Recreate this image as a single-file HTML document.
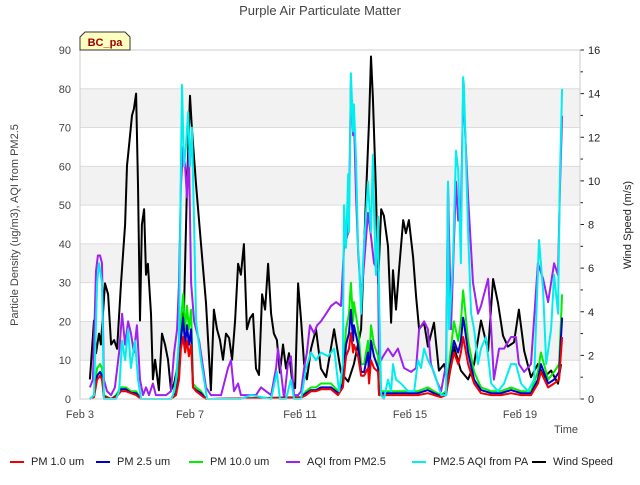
<!DOCTYPE html>
<html><head><meta charset="utf-8"><style>
body{margin:0;background:#fff;}
svg text{font-family:"Liberation Sans",sans-serif;}
</style></head><body>
<svg id="chart" width="640" height="480" xmlns="http://www.w3.org/2000/svg">
<rect width="640" height="480" fill="#fff"/>
<g id="bands"></g><g id="grid"></g><g id="series"></g><g id="axes"></g>
<text x="320" y="15" text-anchor="middle" font-size="13" fill="#444">Purple Air Particulate Matter</text>
<text x="566" y="433" text-anchor="middle" font-size="11" fill="#444">Time</text>
<text transform="translate(18,225) rotate(-90)" text-anchor="middle" font-size="11" fill="#444">Particle Density (ug/m3), AQI from PM2.5</text>
<text transform="translate(631,225) rotate(-90)" text-anchor="middle" font-size="11" fill="#222">Wind Speed (m/s)</text>
<g>
<path d="M80,50 L80,37 L85,32 L125,32 L130,37 L130,50 Z" fill="#ffffc0" stroke="#333" stroke-width="1"/>
<text x="105" y="46" text-anchor="middle" font-size="11" font-weight="bold" fill="#990000">BC_pa</text>
</g>
<g id="legend"></g>
</svg>
<script>
const leftTicks=[0,10,20,30,40,50,60,70,80,90];
const rightTicks=[0,2,4,6,8,10,12,14,16];
const xTickDays=[3,7,11,15,19];
const xTickLabels=["Feb 3","Feb 7","Feb 11","Feb 15","Feb 19"];

const windT=[3.36,3.51,3.58,3.69,3.76,3.91,4.02,4.13,4.24,4.35,4.49,4.64,4.71,4.78,4.89,4.96,5.04,5.11,5.18,5.25,5.33,5.40,5.47,5.58,5.65,5.73,5.87,5.98,6.09,6.2,6.31,6.42,6.53,6.67,6.78,6.89,7.0,7.07,7.22,7.4,7.58,7.76,7.87,7.98,8.09,8.2,8.31,8.42,8.53,8.64,8.75,8.85,8.96,9.07,9.18,9.29,9.4,9.51,9.62,9.73,9.84,9.95,10.05,10.16,10.27,10.38,10.49,10.6,10.71,10.82,10.93,11.04,11.15,11.25,11.4,11.58,11.76,11.95,12.24,12.49,12.75,12.96,13.22,13.4,13.51,13.58,13.65,13.76,13.84,13.95,14.05,14.2,14.31,14.38,14.49,14.6,14.75,14.85,14.96,15.11,15.22,15.33,15.51,15.65,15.87,16.05,16.24,16.38,16.6,16.85,17.11,17.33,17.58,17.84,18.02,18.2,18.38,18.56,18.78,18.96,19.15,19.4,19.65,19.87,20.13,20.38,20.49];
const windV=[0.9,3.6,2.1,3.0,2.5,5.3,4.8,2.5,2.7,2.3,5.3,8.0,10.7,11.6,13.0,13.3,14.0,9.8,3.6,8.0,8.7,5.7,6.2,3.9,0.9,1.8,0.4,3.0,2.5,1.8,0.4,0.7,1.4,2.7,4.1,9.8,13.9,12.4,9.8,7.1,4.4,0.4,4.1,3.2,2.7,1.8,3.0,2.8,1.8,3.6,6.2,5.7,7.1,3.2,3.7,3.9,1.4,1.1,4.8,4.1,6.2,3.9,3.0,2.7,1.2,2.5,1.4,2.1,0.9,0.5,5.3,3.6,1.6,0.9,2.3,3.2,1.4,1.0,3.2,1.2,0.8,1.6,3.2,9.3,12.8,15.7,13.8,9.6,5.3,8.7,8.4,7.0,3.5,5.9,4.1,5.9,8.2,7.6,8.2,6.5,4.7,3.2,3.5,2.4,3.5,1.3,1.6,0.7,2.4,1.3,0.9,1.6,3.6,2.2,5.5,4.4,2.9,2.4,2.6,4.1,2.2,1.0,1.6,1.0,1.3,0.7,1.6];

const paT=[3.36,3.51,3.62,3.69,3.8,3.87,3.98,4.31,4.42,4.53,4.64,4.75,4.85,5.0,5.11,5.22,5.4,6.31,6.38,6.49,6.6,6.67,6.71,6.78,6.85,6.93,7.0,7.07,7.15,7.22,7.4,7.62,7.95,8.85,9.22,9.95,10.16,10.27,10.49,10.67,10.78,11.04,11.22,11.4,11.58,11.76,12.02,12.24,12.42,12.56,12.6,12.67,12.75,12.78,12.85,12.93,12.96,13.04,13.11,13.15,13.22,13.29,13.33,13.47,13.51,13.58,13.65,13.69,13.76,13.84,13.87,13.95,14.05,14.2,14.31,14.38,14.49,14.67,14.93,15.15,15.29,15.4,15.51,15.65,15.87,16.13,16.31,16.38,16.42,16.56,16.67,16.75,16.85,16.93,16.96,17.11,17.22,17.33,17.47,17.58,17.76,17.95,18.2,18.42,18.67,18.85,19.04,19.29,19.51,19.69,19.84,19.95,20.13,20.24,20.38,20.45,20.53];
const paV=[0,1,30,35,30,0,0,0,2,15,10,18,8,15,5,0,0,0,1,5,15,60,81,60,65,74,60,70,45,20,10,0,0,0,1,0,7,0,0,5,0,0,8,12,10,12,11,13,2,9,50,39,58,43,84,69,76,61,39,35,22,35,40,56,51,43,63,49,32,47,27,1,0,5,2,9,5,4,2,2,10,8,13,10,7,1,1,56,18,35,64,59,35,83,81,43,22,18,9,13,16,4,2,4,9,9,4,2,5,41,28,9,18,32,22,57,80];

const aqiT=[3.36,3.47,3.58,3.65,3.73,3.8,3.87,3.98,4.13,4.27,4.42,4.53,4.64,4.75,4.85,4.96,5.07,5.18,5.29,5.4,5.51,5.65,5.76,5.95,6.13,6.31,6.42,6.53,6.6,6.67,6.75,6.82,6.89,6.96,7.04,7.15,7.33,7.58,7.76,7.95,8.13,8.38,8.49,8.6,8.75,8.85,9.04,9.22,9.4,9.58,9.76,9.95,10.13,10.2,10.31,10.42,10.56,10.67,10.78,10.93,11.04,11.15,11.25,11.36,11.51,11.62,11.76,11.95,12.13,12.31,12.49,12.6,12.75,12.78,12.85,12.93,12.96,13.04,13.11,13.22,13.33,13.47,13.58,13.69,13.84,13.87,14.02,14.2,14.38,14.56,14.78,15.04,15.22,15.33,15.51,15.65,15.76,15.95,16.13,16.31,16.38,16.49,16.67,16.75,16.85,16.93,16.96,17.11,17.29,17.47,17.58,17.84,17.95,18.05,18.24,18.42,18.67,18.85,18.96,19.15,19.4,19.65,19.84,20.02,20.24,20.38,20.45,20.53];
const aqiV=[3,5,33,37,37,35,5,2,1,3,12,22,14,20,17,12,19,5,1,3,1,4,1,1,1,2,12,18,30,55,65,60,52,64,30,20,15,3,1,1,1,8,10,2,4,1,1,1,1,3,2,1,8,13,7,0,9,11,1,1,2,8,12,19,17,19,20,22,24,25,24,39,43,48,82,68,73,52,38,26,35,48,42,35,33,9,11,13,11,13,8,7,8,18,20,18,9,5,2,9,56,18,56,46,48,78,76,52,30,22,24,31,18,5,13,13,16,16,9,7,9,35,31,25,35,32,54,73];

const pmT=[3.36,3.51,3.62,3.73,3.8,3.87,4.13,4.31,4.49,4.67,4.85,5.04,5.22,5.58,6.31,6.49,6.6,6.67,6.75,6.82,6.89,6.96,7.04,7.11,7.22,7.4,7.58,7.76,11.04,11.22,11.4,11.58,11.76,12.13,12.38,12.56,12.67,12.78,12.85,12.93,12.96,13.11,13.22,13.33,13.47,13.51,13.58,13.69,13.84,13.87,14.05,14.56,14.93,15.29,15.65,15.87,16.13,16.31,16.42,16.6,16.75,16.85,16.93,16.96,17.11,17.33,17.58,17.95,18.31,18.67,19.04,19.4,19.65,19.76,20.02,20.24,20.42,20.53];
const pm10V=[0,1,8,9,8,1,0,1,3,3,2,2,0,0,0,2,8,20,27,18,24,18,23,4,3,2,0,0,0.5,2,3,3,4,4,2,5,18,22,30,20,25,18,9,9,15,7,19,14,11,2,2,2,2,2,3,2,1,2,9,20,15,20,28,26,15,7,3,2,2,3,2,2,7,12,5,7,9,27];
const pm25V=[0,0.7,6,7,6,0.7,0,0.7,2.5,2.5,1.6,1.5,0,0,0,1.5,6,16,21,14,19,14,18,3,2.3,1.5,0,0,0.4,1.5,2.3,2.3,3,3,1.5,4,14,17,23,15,19,14,7,7,12,5,15,11,8,1.5,1.5,1.5,1.5,1.5,2.3,1.5,0.7,1.5,7,15,12,15,21,20,12,5,2.3,1.5,1.5,2.3,1.5,1.5,5,9,4,5,7,21];
const pm1V=[0,0.5,5,6,5,0.5,0,0.5,2,2,1.5,1,0,0,0,1,5,13,16,12,15,11,14,3,2,1,0,0,0.3,1,2,2,2.5,2.5,1,3,11,13,17,12,14,11,6,6,8,4,10,8,7,1,1,1,1,1,1.5,1,0.5,1,6,12,9,12,16,15,9,4,1.5,1,1,1.5,1,1,4,7,3,4,5,16];

const NS="http://www.w3.org/2000/svg";
const X0=80,X1=580,Y0=399,Y1=50,D0=3,D1=21.18;
const xs=d=>X0+(d-D0)/(D1-D0)*(X1-X0);
const yl=v=>Y0-v/90*(Y0-Y1);
const yr=v=>Y0-v/16*(Y0-Y1);
function mk(tag,attrs,parent){const e=document.createElementNS(NS,tag);for(const k in attrs)e.setAttribute(k,attrs[k]);parent.appendChild(e);return e;}
const bands=document.getElementById('bands'),grid=document.getElementById('grid'),series=document.getElementById('series'),axes=document.getElementById('axes'),legend=document.getElementById('legend');
[[10,20],[30,40],[50,60],[70,80]].forEach(b=>{
 const r=mk('rect',{x:X0,y:yl(b[1]),width:X1-X0,height:yl(b[0])-yl(b[1]),fill:'#f2f2f2'},bands);
 
 
});
leftTicks.forEach(v=>{
 const l=mk('line',{x1:X0,x2:X1,y1:yl(v),y2:yl(v),stroke:'#dcdcdc','stroke-width':1},grid);
 
 
 const t=mk('text',{x:X0-9,y:yl(v)+4,'text-anchor':'end','font-size':11,fill:'#444'},axes);t.textContent=v;
 
 
});
rightTicks.forEach(v=>{
 const t=mk('text',{x:X1+8,y:yr(v)+4,'font-size':11,fill:'#222'},axes);t.textContent=v;
 
 
 mk('line',{x1:X1,x2:X1+4,y1:yr(v),y2:yr(v),stroke:'#222'},axes);
 if(v<16)mk('line',{x1:X1,x2:X1+3,y1:yr(v+1),y2:yr(v+1),stroke:'#222'},axes);
});
mk('rect',{x:X0,y:Y1,width:X1-X0,height:Y0-Y1,fill:'none',stroke:'#ccc'},axes);
xTickDays.forEach((d,i)=>{
 mk('line',{x1:xs(d),x2:xs(d),y1:Y0+10,y2:Y0+12,stroke:'#444'},axes);
 const t=mk('text',{x:xs(d),y:Y0+19,'text-anchor':'middle','font-size':11,fill:'#444'},axes);t.textContent=xTickLabels[i];
 
 
});
function line(T,V,ys,color,name,w){
 const p=mk('polyline',{points:T.map((t,i)=>xs(t).toFixed(1)+','+ys(V[i]).toFixed(1)).join(' '),fill:'none',stroke:color,'stroke-width':w,'stroke-linejoin':'round'},series);
 
 
}
line(windT,windV,yr,'#000','series-wind-speed',2);
line(aqiT,aqiV,yl,'#a020f0','series-aqi-pm25',2);
line(pmT,pm10V,yl,'#00ee00','series-pm10',2);
line(pmT,pm25V,yl,'#0000cc','series-pm25',2);
line(pmT,pm1V,yl,'#ee0000','series-pm1',2);
line(paT,paV,yl,'#00eeee','series-pa-aqi',2);
const leg=[["PM 1.0 um","#ee0000",10],["PM 2.5 um","#0000cc",96],["PM 10.0 um","#00ee00",189],["AQI from PM2.5","#a020f0",286],["PM2.5 AQI from PA","#00eeee",412],["Wind Speed","#000",532]];
leg.forEach(l=>{
 const g=mk('g',{},legend);
 
 
 mk('line',{x1:l[2],x2:l[2]+14,y1:462,y2:462,stroke:l[1],'stroke-width':2},g);
 const t=mk('text',{x:l[2]+21,y:465,'font-size':11,fill:'#222'},g);t.textContent=l[0];
});
</script>
</body></html>
